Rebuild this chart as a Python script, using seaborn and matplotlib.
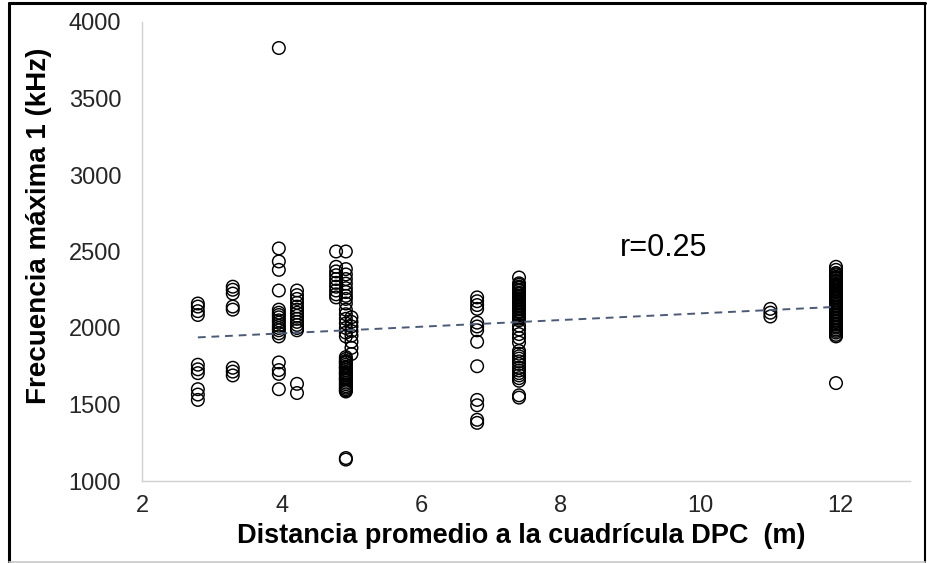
import matplotlib
matplotlib.use("Agg")
import matplotlib.pyplot as plt
from matplotlib.lines import Line2D
import numpy as np
import pandas as pd
import seaborn as sns

# Distancia promedio a la cuadrícula (m) de cada grupo de registros
dpc_m = [2.8, 3.3, 3.96, 4.22, 4.78, 4.92, 5.0, 6.8, 7.4, 11.0, 11.94]

# Frecuencia máxima 1 (kHz) registrada en cada grupo
freq_2_8 = [2160, 2140, 2110, 2085, 1760, 1730, 1705, 1600, 1565, 1530]
freq_3_3 = [2270, 2250, 2225, 2140, 2120, 1740, 1715, 1690]
freq_3_96 = [3830, 2520, 2435, 2380, 2245, 2120, 2100, 2085, 2070, 2050,
             2035, 2015, 2000, 1985, 1965, 1945, 1775, 1725, 1700, 1600]
freq_4_22 = [2245, 2215, 2190, 2165, 2140, 2120, 2100, 2080, 2060, 2040,
             2020, 2000, 1985, 1635, 1575]
freq_4_78 = [2500, 2400, 2370, 2345, 2320, 2295, 2270, 2245, 2220, 2200]
freq_4_92 = [2500, 2385, 2350, 2320, 2290, 2260, 2235, 2210, 2190, 2160,
             2120, 2090, 2060, 2030, 2000, 1970, 1945,
             1810, 1798, 1785, 1778, 1772, 1760, 1748, 1742, 1737, 1725,
             1712, 1705, 1700, 1690, 1678, 1668, 1666, 1655, 1643, 1632,
             1620, 1610, 1600, 1592, 1585, 1150, 1140]
freq_5_0 = [2070, 2040, 2010, 1980, 1950, 1910, 1870, 1830]
freq_6_8 = [2200, 2175, 2150, 2125, 2035, 2010, 1985, 1910, 1750,
            1530, 1495, 1400, 1380]
freq_7_4 = [2330, 2292, 2283, 2271, 2265, 2262, 2250, 2243, 2231, 2225,
            2222, 2210, 2203, 2191, 2185, 2182, 2170, 2161, 2150, 2145,
            2142, 2130, 2121, 2110, 2105, 2101, 2090, 2082, 2070, 2061,
            2050, 2015, 1990, 1960, 1935, 1905, 1850, 1832, 1815, 1800,
            1782, 1765, 1740, 1722, 1705, 1690, 1672, 1655, 1560, 1545]
freq_11_0 = [2125, 2100, 2075]
freq_11_94 = [2400, 2380, 2360, 2352, 2345, 2335, 2328, 2322, 2310, 2306,
              2301, 2290, 2284, 2276, 2270, 2262, 2251, 2240, 2233, 2220,
              2212, 2200, 2193, 2181, 2170, 2162, 2150, 2141, 2130, 2122,
              2110, 2101, 2090, 2082, 2070, 2061, 2050, 2042, 2030, 2021,
              2010, 2002, 1990, 1981, 1970, 1955, 1945, 1640]

frecuencias = [freq_2_8, freq_3_3, freq_3_96, freq_4_22, freq_4_78, freq_4_92,
               freq_5_0, freq_6_8, freq_7_4, freq_11_0, freq_11_94]

x_ticks = [2, 4, 6, 8, 10, 12]
y_ticks = [1000, 1500, 2000, 2500, 3000, 3500, 4000]
r_label = "r=0.25"

df = pd.DataFrame({
    "dpc": np.concatenate([[d] * len(f) for d, f in zip(dpc_m, frecuencias)]),
    "freq": np.concatenate(frecuencias),
})

sns.set_theme(style="white")
plt.rcParams["font.family"] = ["Liberation Sans", "DejaVu Sans"]

fig = plt.figure(figsize=(9.28, 5.63), dpi=100)
ax = fig.add_axes([142 / 928, 1 - 481 / 563, 768 / 928, 459 / 563])

sns.scatterplot(data=df, x="dpc", y="freq", ax=ax, marker="o", s=82,
                facecolor="none", edgecolor="black", linewidth=1.05,
                legend=False)
sns.regplot(data=df, x="dpc", y="freq", ax=ax, scatter=False, ci=None,
            line_kws=dict(color="#4A5A78", lw=1.4, ls=(0, (4, 3))))

ax.set_xlim(2, 13)
ax.set_ylim(1000, 4000)
ax.set_xticks(x_ticks)
ax.set_yticks(y_ticks)
ax.tick_params(axis="both", length=0, labelsize=17, colors="#262626")
ax.tick_params(axis="y", pad=15)
ax.tick_params(axis="x", pad=10)

for side in ["top", "right"]:
    ax.spines[side].set_visible(False)
for side in ["left", "bottom"]:
    ax.spines[side].set_color("#D0D0D0")
    ax.spines[side].set_linewidth(1.0)

ax.set_xlabel("Distancia promedio a la cuadrícula DPC  (m)",
              fontsize=19.5, fontweight="bold", color="black")
ax.set_ylabel("Frecuencia máxima 1 (kHz)",
              fontsize=20, fontweight="bold", color="black")
ax.xaxis.set_label_coords(0.4935, -0.12)
ax.xaxis.label.set_verticalalignment("center")
ax.yaxis.set_label_coords(-0.134, 0.555)
ax.yaxis.label.set_verticalalignment("center")

ax.text(8.85, 2525, r_label, fontsize=22, color="black",
        ha="left", va="center")

# outer frame around the figure
W, H = 928, 563
fig.add_artist(Line2D([9 / W, 9 / W], [1 / H, 1 - 3 / H],
                      transform=fig.transFigure, color="black", lw=2.2))
fig.add_artist(Line2D([9 / W, 925 / W], [1 - 3 / H, 1 - 3 / H],
                      transform=fig.transFigure, color="black", lw=2.2))
fig.add_artist(Line2D([925 / W, 925 / W], [1 / H, 1 - 3 / H],
                      transform=fig.transFigure, color="black", lw=1.5))
fig.add_artist(Line2D([9 / W, 925 / W], [1 / H, 1 / H],
                      transform=fig.transFigure, color="#C8C8C8", lw=1.2))

fig.savefig("out.png", dpi=100)
